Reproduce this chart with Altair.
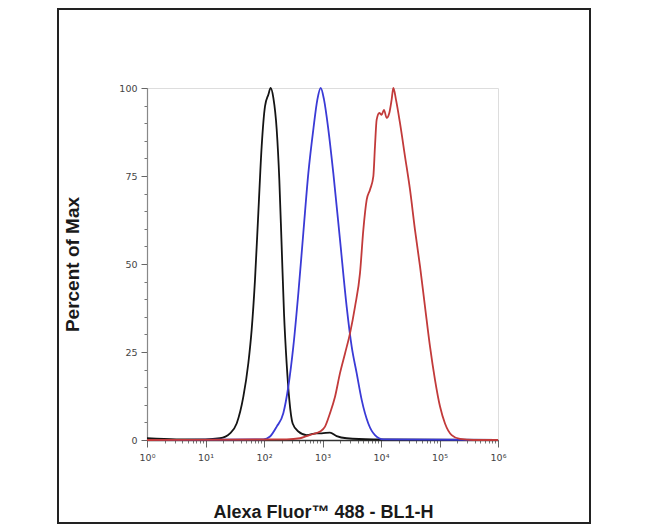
import altair as alt
import pandas as pd

# ---- data (x as log10 of BL1-H intensity, y as % of max) ----
black_logx = [0.0, 0.5, 1.0, 1.248, 1.419, 1.533, 1.647, 1.732, 1.789, 1.846, 1.903, 1.960,
              2.017, 2.074, 2.114, 2.160, 2.217, 2.262, 2.302, 2.342, 2.387, 2.433, 2.490,
              2.587, 2.729, 2.900, 2.986, 3.128, 3.242, 3.413, 3.869, 6.0]
black_pct = [0.5, 0.2, 0.2, 0.5, 1.9, 4.7, 12.3, 21.8, 31.3, 45.5, 64.5, 83.4,
             94.8, 98.1, 100.0, 97.2, 88.2, 73.9, 55.0, 36.0, 21.8, 11.4, 4.7,
             2.4, 1.4, 1.9, 1.9, 2.1, 1.1, 0.5, 0.2, 0.0]

blue_logx = [0.0, 1.989, 2.103, 2.217, 2.330, 2.416, 2.501, 2.587, 2.672, 2.758, 2.843,
             2.912, 2.969, 3.026, 3.100, 3.185, 3.299, 3.413, 3.499, 3.584, 3.670,
             3.783, 3.897, 4.040, 6.0]
blue_pct = [0.0, 0.2, 1.0, 3.8, 7.6, 15.2, 26.5, 41.7, 58.8, 75.8, 88.2,
            96.7, 100.0, 96.7, 88.2, 75.8, 56.9, 37.9, 26.5, 19.0, 11.4,
            4.7, 1.4, 0.2, 0.0]

red_logx = [0.0, 2.387, 2.615, 2.729, 2.843, 2.957, 3.043, 3.128, 3.214, 3.299, 3.385,
            3.470, 3.556, 3.641, 3.698, 3.755, 3.812, 3.869, 3.897, 3.926, 3.972,
            4.011, 4.051, 4.097, 4.142, 4.182, 4.211, 4.256, 4.325, 4.410, 4.496,
            4.581, 4.667, 4.752, 4.838, 4.923, 5.009, 5.094, 5.208, 5.350, 5.578, 6.0]
red_pct = [0.0, 0.2, 0.5, 1.1, 1.7, 2.4, 3.8, 7.6, 12.3, 19.0, 24.6,
           30.3, 37.9, 47.4, 59.7, 68.2, 71.1, 74.9, 83.4, 91.0, 92.9,
           92.4, 93.8, 91.5, 92.9, 96.7, 100.0, 96.7, 90.0, 80.6, 71.1,
           59.7, 49.3, 37.9, 26.5, 17.1, 9.5, 4.7, 1.4, 0.3, 0.0, 0.0]

series_names = ["red", "blue", "black"]
series_colors = ["#c23a3a", "#3a3ad6", "#141414"]

x_major_values = [1, 10, 100, 1000, 10000, 100000, 1000000]
x_major_labels = ["10⁰", "10¹", "10²", "10³", "10⁴", "10⁵", "10⁶"]
x_minor_values = [m * d for d in [1, 10, 100, 1000, 10000, 100000] for m in range(2, 10)]
y_major_values = [0, 25, 50, 75, 100]
y_minor_values = list(range(0, 101, 5))

rows = []
for name, lx, py in zip(["black", "blue", "red"], [black_logx, blue_logx, red_logx],
                        [black_pct, blue_pct, red_pct]):
    for i, (a, b) in enumerate(zip(lx, py)):
        rows.append({"series": name, "logx": a, "pct": b, "i": i})
df = pd.DataFrame(rows)

label_expr = ""
for v, lab in zip(x_major_values, x_major_labels):
    label_expr += f"datum.value == {v} ? '{lab}' : "
label_expr += "''"

xscale = alt.Scale(type="log", domain=[1, 1000000], nice=False)
yscale = alt.Scale(domain=[0, 100], nice=False, zero=True)

base = alt.Chart(df).transform_calculate(xv="pow(10, datum.logx)")

minor = base.mark_point(opacity=0).encode(
    x=alt.X("xv:Q", scale=xscale,
            axis=alt.Axis(orient="bottom", values=x_minor_values, labels=False, title=None,
                          tickSize=3, tickColor="#777", domain=False, grid=False)),
    y=alt.Y("pct:Q", scale=yscale,
            axis=alt.Axis(orient="left", values=y_minor_values, labels=False, title=None,
                          tickSize=3, tickColor="#777", domain=False, grid=False)),
)

lines = base.mark_line(strokeWidth=1.8, interpolate="monotone").encode(
    x=alt.X("xv:Q", scale=xscale,
            axis=alt.Axis(orient="bottom", values=x_major_values, labelExpr=label_expr,
                          title="Alexa Fluor™ 488 - BL1-H", tickSize=7, tickColor="#666",
                          domainColor="#333", domainWidth=1.5, grid=False,
                          labelFont="DejaVu Sans", labelFontSize=9.5, labelColor="#444",
                          labelPadding=5, labelFlush=False,
                          titleFont="Liberation Sans", titleFontSize=18,
                          titleFontWeight="bold", titleColor="#1a1a1a",
                          titleX=176, titleY=72, titleBaseline="middle")),
    y=alt.Y("pct:Q", scale=yscale,
            axis=alt.Axis(orient="left", values=y_major_values, title="Percent of Max",
                          tickSize=6, tickColor="#666", domainColor="#888", domainWidth=1.2,
                          grid=False, labelFont="DejaVu Sans", labelFontSize=9.5,
                          labelColor="#444", labelPadding=4,
                          titleFont="Liberation Sans", titleFontSize=19,
                          titleFontWeight="bold", titleColor="#1a1a1a",
                          titleAngle=-90, titleX=-75, titleY=176,
                          titleAlign="center", titleBaseline="middle")),
    color=alt.Color("series:N", scale=alt.Scale(domain=series_names, range=series_colors),
                    legend=None),
    detail="series:N",
    order="i:Q",
)

frame = alt.Chart(pd.DataFrame({"a": [0]})).mark_rect(
    fillOpacity=0, stroke="#222", strokeWidth=2
).encode(x=alt.value(-89), x2=alt.value(443), y=alt.value(-79), y2=alt.value(435))

chart = alt.layer(minor, lines, frame).resolve_axis(
    x="independent", y="independent"
).properties(
    width=351, height=352,
    autosize=alt.AutoSizeParams(type="none"),
    padding={"left": 139, "top": 80, "right": 144, "bottom": 84},
).configure_view(stroke="#aaa", strokeWidth=1.2).configure(background="white")

chart.save("out.html", embed_options={"renderer": "svg", "actions": False})
